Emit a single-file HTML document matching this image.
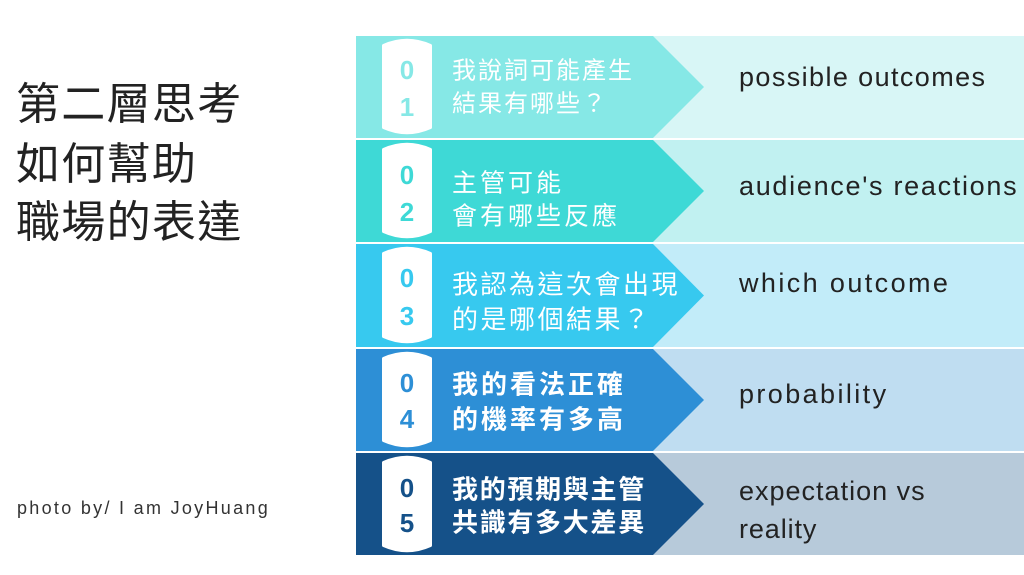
<!DOCTYPE html>
<html>
<head>
<meta charset="utf-8">
<style>
html,body{margin:0;padding:0;background:#fff;}
body{width:1024px;height:575px;overflow:hidden;}
svg{display:block;}
.cjk{font-family:"Liberation Sans","Noto Sans CJK TC","Noto Sans CJK SC",sans-serif;}
.en{font-family:"Liberation Sans",sans-serif;}
</style>
</head>
<body>
<svg width="1024" height="575" viewBox="0 0 1024 575" xmlns="http://www.w3.org/2000/svg">
  <rect x="0" y="0" width="1024" height="575" fill="#ffffff"/>

  <!-- Title -->
  <g class="cjk" font-size="44" fill="#222222" letter-spacing="1.3">
    <text x="16" y="119">第二層思考</text>
    <text x="16" y="179">如何幫助</text>
    <text x="16" y="237">職場的表達</text>
  </g>
  <text class="en" x="17" y="514" font-size="18" fill="#333333" letter-spacing="2.3">photo by/ I am JoyHuang</text>

  <!-- Row 1 -->
  <rect x="653" y="36" width="371" height="102" fill="#D8F6F6"/>
  <polygon points="356,36 653,36 704,87 653,138 356,138" fill="#86E8E6"/>
  <!-- Row 2 -->
  <rect x="653" y="140" width="371" height="102" fill="#C1F1F1"/>
  <polygon points="356,140 653,140 704,191 653,242 356,242" fill="#3ED9D6"/>
  <!-- Row 3 -->
  <rect x="653" y="244" width="371" height="103" fill="#C2ECF9"/>
  <polygon points="356,244 653,244 704,295.5 653,347 356,347" fill="#37C9EF"/>
  <!-- Row 4 -->
  <rect x="653" y="349" width="371" height="102" fill="#BFDDF1"/>
  <polygon points="356,349 653,349 704,400 653,451 356,451" fill="#2D8FD6"/>
  <!-- Row 5 -->
  <rect x="653" y="453" width="371" height="102" fill="#B7CADA"/>
  <polygon points="356,453 653,453 704,504 653,555 356,555" fill="#155189"/>

  <!-- Pills -->
  <g fill="#ffffff" stroke="#ffffff" stroke-width="3" stroke-linejoin="round">
    <path d="M383.5,45.5 Q407,35 430.5,45.5 L430.5,127.5 Q407,138 383.5,127.5 Z"/>
    <path d="M383.5,149.5 Q407,139 430.5,149.5 L430.5,231.5 Q407,242 383.5,231.5 Z"/>
    <path d="M383.5,253.5 Q407,243 430.5,253.5 L430.5,336.5 Q407,347 383.5,336.5 Z"/>
    <path d="M383.5,358.5 Q407,348 430.5,358.5 L430.5,440.5 Q407,451 383.5,440.5 Z"/>
    <path d="M383.5,462.5 Q407,452 430.5,462.5 L430.5,545.5 Q407,556 383.5,545.5 Z"/>
  </g>

  <!-- Digits -->
  <g class="en" font-size="26" font-weight="bold" text-anchor="middle">
    <text x="407" y="79" fill="#86E8E6">0</text>
    <text x="407" y="116" fill="#86E8E6">1</text>
    <text x="407" y="184" fill="#3ED9D6">0</text>
    <text x="407" y="221" fill="#3ED9D6">2</text>
    <text x="407" y="287" fill="#37C9EF">0</text>
    <text x="407" y="325" fill="#37C9EF">3</text>
    <text x="407" y="392" fill="#2D8FD6">0</text>
    <text x="407" y="428" fill="#2D8FD6">4</text>
    <text x="407" y="497" fill="#155189">0</text>
    <text x="407" y="532" fill="#155189">5</text>
  </g>

  <!-- Chinese labels -->
  <g class="cjk" fill="#ffffff">
    <text x="452" y="78.5" font-size="24" letter-spacing="2">我說詞可能產生</text>
    <text x="452" y="111.5" font-size="24" letter-spacing="2">結果有哪些？</text>
    <text x="452" y="191.5" font-size="25" letter-spacing="3">主管可能</text>
    <text x="452" y="224.5" font-size="25" letter-spacing="3">會有哪些反應</text>
    <text x="452" y="293.5" font-size="26" letter-spacing="2.5">我認為這次會出現</text>
    <text x="452" y="328.5" font-size="26" letter-spacing="2.5">的是哪個結果？</text>
    <text x="452" y="393.5" font-size="26" font-weight="bold" letter-spacing="3">我的看法正確</text>
    <text x="452" y="428.5" font-size="26" font-weight="bold" letter-spacing="3">的機率有多高</text>
    <text x="452" y="498.5" font-size="26" font-weight="bold" letter-spacing="1.7">我的預期與主管</text>
    <text x="452" y="531.5" font-size="26" font-weight="bold" letter-spacing="1.7">共識有多大差異</text>
  </g>

  <!-- English labels -->
  <g class="en" font-size="27" fill="#222222">
    <text x="739" y="86" letter-spacing="1.4">possible outcomes</text>
    <text x="739" y="195" letter-spacing="1.7">audience's reactions</text>
    <text x="739" y="292" letter-spacing="2.4">which outcome</text>
    <text x="739" y="403" letter-spacing="2.4">probability</text>
    <text x="739" y="500" letter-spacing="1.0">expectation vs</text>
    <text x="739" y="538" letter-spacing="0.9">reality</text>
  </g>
</svg>
</body>
</html>
